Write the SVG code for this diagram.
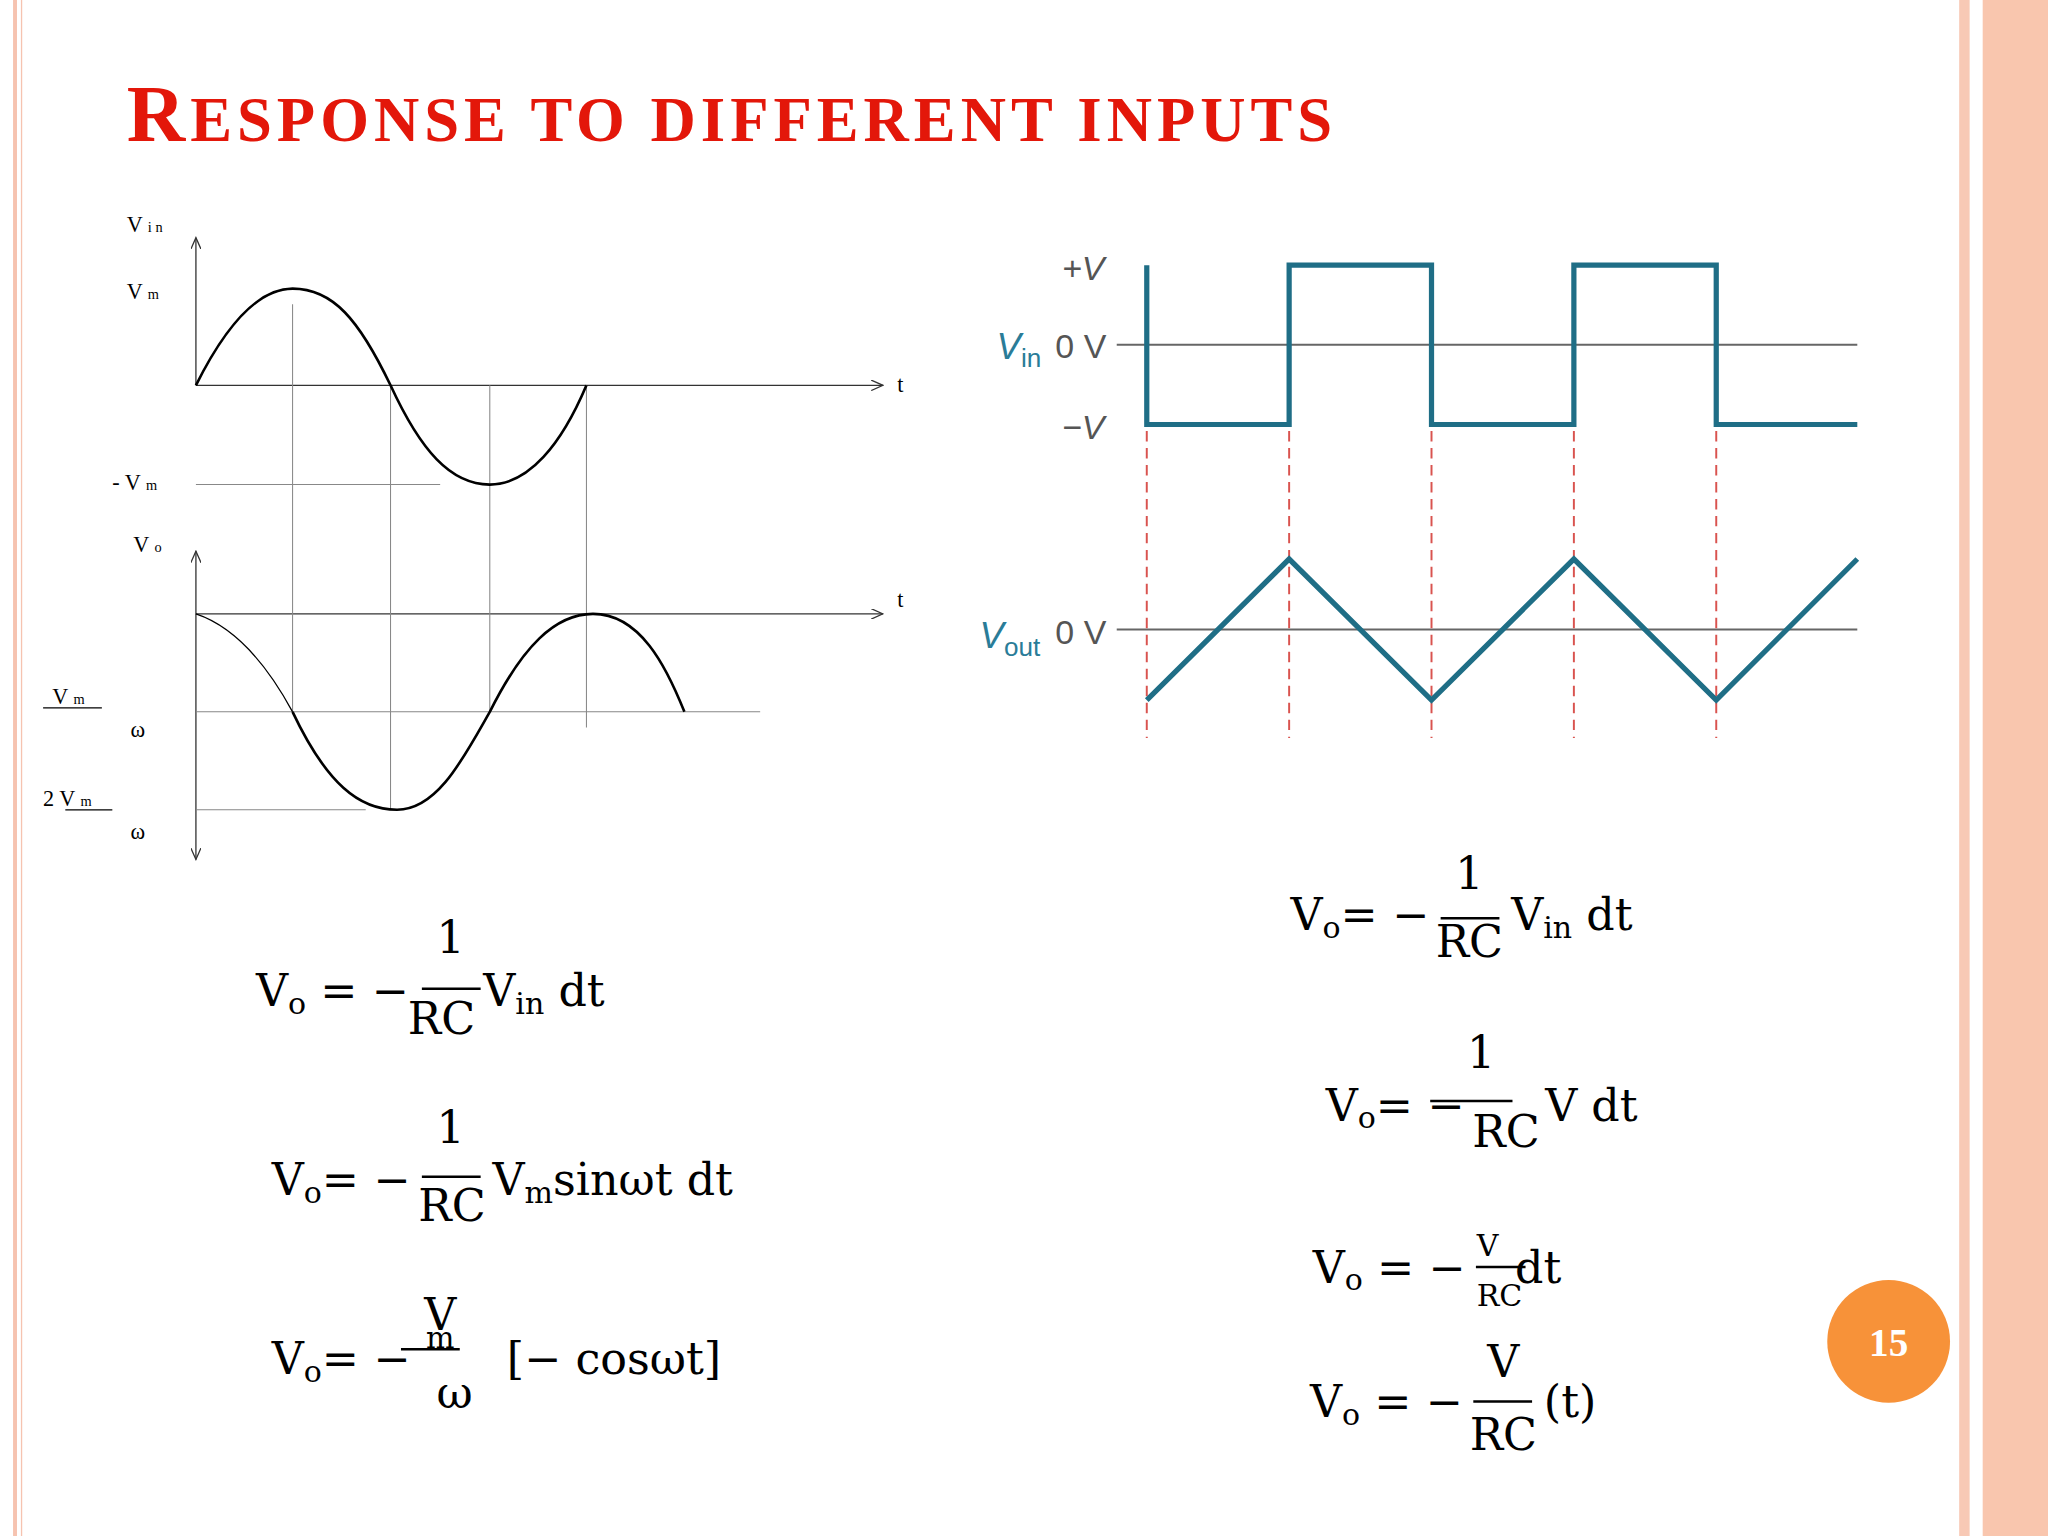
<svg xmlns="http://www.w3.org/2000/svg" width="2048" height="1536" viewBox="0 0 2048 1536">
<style>
.ax{stroke:#333;stroke-width:1;fill:none}
.grid{stroke:#888;stroke-width:0.8;fill:none}
.crv{stroke:#000;stroke-width:2;fill:none}
.lbl{font-family:"Liberation Serif",serif;font-size:17px;fill:#000}
.sub{font-size:11px}
.wv{stroke:#1f6e86;stroke-width:4;fill:none;stroke-linejoin:miter}
.gl{stroke:#666;stroke-width:1.5}
.dash{stroke:#d9534f;stroke-width:1.5;stroke-dasharray:8 5}
.gt{font-family:"Liberation Sans",sans-serif;font-size:26px;fill:#555}
.vl{font-family:"Liberation Sans",sans-serif;font-size:28px;fill:#2a7c98;font-style:italic}
.eq{font-family:"DejaVu Serif","Liberation Serif",serif;font-size:34px;fill:#000}
.es{font-size:23px}
.fl{stroke:#000;stroke-width:2}
</style>
<defs>
<marker id="ar" markerWidth="10" markerHeight="8" refX="9" refY="4" orient="auto" markerUnits="userSpaceOnUse"><path d="M0,0 L9,4 L0,8" fill="none" stroke="#333"/></marker>
</defs>
<rect width="2048" height="1536" fill="#fff"/>
<g transform="scale(1.30612)">
<g id="borders">
<rect x="10" y="0" width="3" height="1176" fill="#f6c3b0"/>
<rect x="16" y="0" width="1" height="1176" fill="#f6c3b0"/>
<rect x="1500" y="0" width="8" height="1176" fill="#f8c9b5"/>
<rect x="1518" y="0" width="50" height="1176" fill="#f9c6ae"/>
</g>
<g id="title">
<text x="97" y="108" font-family="Liberation Serif,serif" font-weight="bold" fill="#e3170a" textLength="923" lengthAdjust="spacing"><tspan font-size="62">R</tspan><tspan font-size="48">ESPONSE TO DIFFERENT  INPUTS</tspan></text>
</g>
<g id="sine-graph">
<path class="ax" d="M150,295 V182" marker-end="url(#ar)"/>
<path class="ax" d="M150,295 H676" marker-end="url(#ar)"/>
<path class="ax" d="M150,470 V422" marker-end="url(#ar)"/>
<path class="ax" d="M150,470 V658" marker-end="url(#ar)"/>
<path class="ax" d="M150,470 H676" marker-end="url(#ar)"/>
<path class="grid" d="M224,233 V545 M299,295 V620 M375,295 V545 M449,295 V557 M150,371 H337 M150,545 H582 M150,620 H280"/>
<path class="crv" d="M150,295 C175,245 200,221 224,221 C255,221 275,245 299,295 C322,345 345,371 375,371 C405,371 430,340 449,295"/>
<path d="M150,470 C180,480 205,510 224,545" stroke="#000" stroke-width="1" fill="none"/>
<path class="crv" d="M224,545 C250,600 275,620 304,620 C335,620 355,580 375,545 C400,495 425,470 454,470 C490,470 510,510 524,545"/>
<text class="lbl" x="97" y="178">V <tspan class="sub">i n</tspan></text>
<text class="lbl" x="97" y="229">V <tspan class="sub">m</tspan></text>
<text class="lbl" x="687" y="300">t</text>
<text class="lbl" x="86" y="375">- V <tspan class="sub">m</tspan></text>
<text class="lbl" x="102" y="423">V <tspan class="sub">o</tspan></text>
<text class="lbl" x="687" y="465">t</text>
<text class="lbl" x="40" y="539">V <tspan class="sub">m</tspan></text>
<line x1="33" y1="542" x2="78" y2="542" stroke="#000"/>
<text class="lbl" x="100" y="564">ω</text>
<text class="lbl" x="33" y="617">2 V <tspan class="sub">m</tspan></text>
<line x1="50" y1="620" x2="86" y2="620" stroke="#000"/>
<text class="lbl" x="100" y="642">ω</text>
</g>
<g id="square-graph">
<line class="gl" x1="855" y1="264" x2="1422" y2="264"/>
<line class="gl" x1="855" y1="482" x2="1422" y2="482"/>
<path class="dash" d="M878,330 V565 M987,330 V565 M1096,330 V565 M1205,330 V565 M1314,330 V565"/>
<path class="wv" d="M878,203 V325 H987 V203 H1096 V325 H1205 V203 H1314 V325 H1422"/>
<path class="wv" d="M878,536 L987,428 L1096,536 L1205,428 L1314,536 L1422,428"/>
<text class="gt" x="813" y="214" font-style="italic">+V</text>
<text class="gt" x="808" y="274">0 V</text>
<text class="gt" x="813" y="336" font-style="italic">−V</text>
<text class="gt" x="808" y="493">0 V</text>
<text class="vl" x="763" y="275">V<tspan font-size="20" dy="6" font-style="normal">in</tspan></text>
<text class="vl" x="750" y="496">V<tspan font-size="20" dy="6" font-style="normal">out</tspan></text>
</g>
<g id="equations">
<text class="eq" x="196" y="770">V<tspan class="es" dy="6">o</tspan><tspan dy="-6"> = −</tspan></text>
<text class="eq" x="345" y="730" text-anchor="middle">1</text>
<line class="fl" x1="323" y1="757" x2="368" y2="757"/>
<text class="eq" x="338" y="792" text-anchor="middle">RC</text>
<text class="eq" x="370" y="770">V<tspan class="es" dy="6">in</tspan><tspan dy="-6"> dt</tspan></text>

<text class="eq" x="208" y="915">V<tspan class="es" dy="6">o</tspan><tspan dy="-6">= −</tspan></text>
<text class="eq" x="345" y="875" text-anchor="middle">1</text>
<line class="fl" x1="323" y1="901" x2="368" y2="901"/>
<text class="eq" x="346" y="935" text-anchor="middle">RC</text>
<text class="eq" x="377" y="915">V<tspan class="es" dy="6">m</tspan><tspan dy="-6">sinωt dt</tspan></text>

<text class="eq" x="208" y="1052">V<tspan class="es" dy="6">o</tspan><tspan dy="-6">= −</tspan></text>
<text class="eq" x="337" y="1018" text-anchor="middle">V</text>
<text class="eq es" x="337" y="1032" text-anchor="middle">m</text>
<line class="fl" x1="307" y1="1033" x2="352" y2="1033"/>
<text class="eq" x="348" y="1078" text-anchor="middle">ω</text>
<text class="eq" x="388" y="1052">[− cosωt]</text>

<text class="eq" x="988" y="712">V<tspan class="es" dy="6">o</tspan><tspan dy="-6">= −</tspan></text>
<text class="eq" x="1125" y="681" text-anchor="middle">1</text>
<line class="fl" x1="1103" y1="703" x2="1148" y2="703"/>
<text class="eq" x="1125" y="733" text-anchor="middle">RC</text>
<text class="eq" x="1157" y="712">V<tspan class="es" dy="6">in</tspan><tspan dy="-6"> dt</tspan></text>

<text class="eq" x="1015" y="858">V<tspan class="es" dy="6">o</tspan><tspan dy="-6">= −</tspan></text>
<text class="eq" x="1134" y="818" text-anchor="middle">1</text>
<line class="fl" x1="1095" y1="843" x2="1158" y2="843"/>
<text class="eq" x="1153" y="878" text-anchor="middle">RC</text>
<text class="eq" x="1183" y="858">V dt</text>

<text class="eq" x="1005" y="982">V<tspan class="es" dy="6">o</tspan><tspan dy="-6"> = −</tspan></text>
<text class="eq es" x="1139" y="962" text-anchor="middle">V</text>
<line class="fl" x1="1130" y1="970" x2="1168" y2="970"/>
<text class="eq es" x="1148" y="1000" text-anchor="middle">RC</text>
<text class="eq" x="1160" y="982">dt</text>

<text class="eq" x="1003" y="1085">V<tspan class="es" dy="6">o</tspan><tspan dy="-6"> = −</tspan></text>
<text class="eq" x="1151" y="1054" text-anchor="middle">V</text>
<line class="fl" x1="1128" y1="1073" x2="1173" y2="1073"/>
<text class="eq" x="1151" y="1110" text-anchor="middle">RC</text>
<text class="eq" x="1182" y="1085">(t)</text>
</g>
<g id="page-number">
<circle cx="1446" cy="1027" r="47" fill="#f79239"/>
<text x="1446" y="1038" text-anchor="middle" font-family="Liberation Serif,serif" font-weight="bold" font-size="30" fill="#fff">15</text>
</g>
</g>
</svg>
